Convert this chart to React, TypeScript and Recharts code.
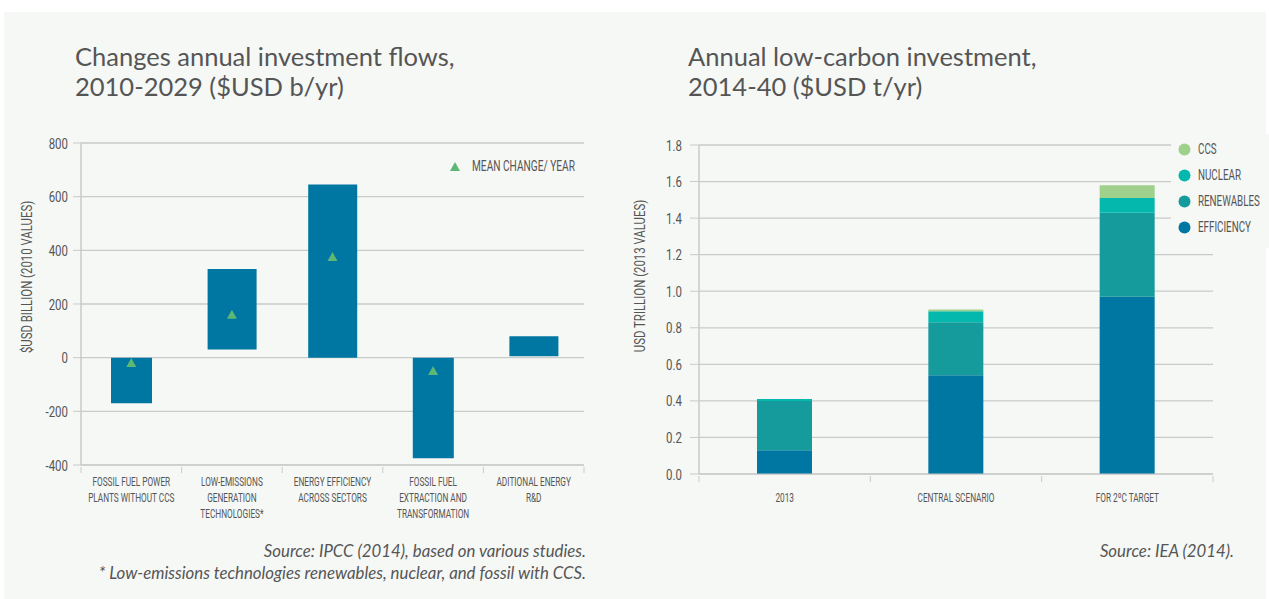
import {
  ComposedChart,
  BarChart,
  Bar,
  Line,
  XAxis,
  YAxis,
  CartesianGrid,
  Legend,
} from "recharts";

// ---- left chart: changes in annual investment flows ----
const flowCategories = [
  "FOSSIL FUEL POWER|PLANTS WITHOUT CCS",
  "LOW-EMISSIONS|GENERATION|TECHNOLOGIES*",
  "ENERGY EFFICIENCY|ACROSS SECTORS",
  "FOSSIL FUEL|EXTRACTION AND|TRANSFORMATION",
  "ADITIONAL ENERGY|R&D",
];
const flowLow = [-170, 30, 0, -375, 5];
const flowHigh = [0, 330, 645, 0, 80];
const meanChange = [-20, 160, 375, -50, null];
const flowTicks = [-400, -200, 0, 200, 400, 600, 800];

// ---- right chart: annual low-carbon investment ----
const scenarios = ["2013", "CENTRAL SCENARIO", "FOR 2ºC TARGET"];
const efficiency = [0.13, 0.54, 0.97];
const renewables = [0.27, 0.29, 0.46];
const nuclear = [0.01, 0.06, 0.08];
const ccs = [0, 0.01, 0.07];
const investTicks = [0, 0.2, 0.4, 0.6, 0.8, 1.0, 1.2, 1.4, 1.6, 1.8];

const flowData = flowCategories.map((name, i) => ({
  name,
  up: flowLow[i] >= 0 ? [flowLow[i], flowHigh[i]] : null,
  down: flowLow[i] < 0 ? [flowLow[i], flowHigh[i]] : null,
  mean: meanChange[i],
}));

const investData = scenarios.map((name, i) => ({
  name,
  efficiency: efficiency[i],
  renewables: renewables[i],
  nuclear: nuclear[i],
  ccs: ccs[i],
}));

const seriesInfo = [
  { key: "efficiency", name: "EFFICIENCY", color: "#0076a2" },
  { key: "renewables", name: "RENEWABLES", color: "#169b9c" },
  { key: "nuclear", name: "NUCLEAR", color: "#04b8ad" },
  { key: "ccs", name: "CCS", color: "#9fd18d" },
];

const BG = "#f6f8f6";
const GRID = "#c9cbcb";
const TEXT = "#555555";
const NARROW = "Roboto, 'Liberation Sans', sans-serif";
const SQUEEZE = 0.7;
const HUMAN = "Lato, 'Open Sans', sans-serif";
const BLUE = "#0076a2";
const GREEN = "#5cb874";

// condensed-looking svg text (no condensed font installed)
const Narrow = ({ x, y, size, anchor = "middle", children, squeeze = SQUEEZE }: any) => (
  <text
    transform={`translate(${x},${y}) scale(${squeeze},1)`}
    textAnchor={anchor}
    fontFamily={NARROW}
    fontSize={size}
    fill={TEXT}
  >
    {children}
  </text>
);

const Triangle = (props: any) => {
  const { cx, cy } = props;
  if (cx == null || cy == null || props.value == null) return null;
  return <path d={`M${cx - 5},${cy + 4}L${cx + 5},${cy + 4}L${cx},${cy - 5}Z`} fill={GREEN} />;
};

function makeCategoryTick(n: number, plotWidth: number, firstLine: number, lineGap: number) {
  return (props: any) => {
    const { x, y, payload, index } = props;
    const band = plotWidth / n;
    const lines = String(payload.value).split("|");
    return (
      <g>
        <line x1={x + band / 2} x2={x + band / 2} y1={y} y2={y + 6} stroke={GRID} />
        {index === 0 && <line x1={x - band / 2} x2={x - band / 2} y1={y} y2={y + 6} stroke={GRID} />}
        {lines.map((l, k) => (
          <Narrow key={k} x={x} y={y + firstLine + k * lineGap} size={12.5} squeeze={0.66}>
            {l}
          </Narrow>
        ))}
      </g>
    );
  };
}

function makeValueTick(fmt: (v: number) => string) {
  return (props: any) => {
    const { x, y, payload } = props;
    return (
      <Narrow x={x} y={y + 5.5} size={15.5} anchor="end" squeeze={0.74}>
        {fmt(payload.value)}
      </Narrow>
    );
  };
}

const axisTitle = (x: number, y: number, text: string) => () => (
  <g transform={`translate(${x},${y}) rotate(-90)`}>
    <Narrow x={0} y={5} size={15} squeeze={0.76}>
      {text}
    </Narrow>
  </g>
);

const narrowSpan = (text: string, size: number) => (
  <span
    style={{
      display: "inline-block",
      fontFamily: NARROW,
      fontSize: size,
      color: TEXT,
      whiteSpace: "nowrap",
      transform: `scaleX(${SQUEEZE})`,
      transformOrigin: "left center",
    }}
  >
    {text}
  </span>
);

function FlowChart() {
  return (
    <ComposedChart
      width={600}
      height={540}
      data={flowData}
      margin={{ top: 143, right: 16, left: 0, bottom: 15 }}
    >
      <CartesianGrid vertical={false} stroke={GRID} strokeWidth={1.3} />
      <XAxis
        xAxisId="a"
        dataKey="name"
        height={60}
        axisLine={{ stroke: GRID }}
        tickLine={false}
        tickSize={0}
        interval={0}
        tick={makeCategoryTick(5, 503, 19, 16)}
      />
      <XAxis xAxisId="b" dataKey="name" hide />
      <YAxis
        domain={[-400, 800]}
        ticks={flowTicks}
        width={81}
        interval={0}
        axisLine={{ stroke: GRID, strokeWidth: 1.5 }}
        tickLine={{ stroke: GRID }}
        tickSize={8}
        tickMargin={5}
        tick={makeValueTick((v) => String(v))}
        label={{ content: axisTitle(27, 277, "$USD BILLION (2010 VALUES)") }}
      />
      <Bar xAxisId="a" dataKey="up" barSize={49} fill={BLUE} legendType="none" isAnimationActive={false} />
      <Bar xAxisId="b" dataKey="down" barSize={41} fill={BLUE} legendType="none" isAnimationActive={false} />
      <Line
        xAxisId="a"
        dataKey="mean"
        name="MEAN CHANGE/ YEAR"
        stroke="none"
        dot={<Triangle />}
        activeDot={false}
        isAnimationActive={false}
      />
      <Legend
        layout="vertical"
        align="center"
        verticalAlign="middle"
        wrapperStyle={{ left: 448, top: 157, width: 150 }}
        content={(p: any) => (
          <div>
            {(p.payload || [])
              .filter((e: any) => e.dataKey === "mean")
              .map((e: any) => (
                <div key={e.value} style={{ display: "flex", alignItems: "center", whiteSpace: "nowrap" }}>
                  <svg width={16} height={16} style={{ flexShrink: 0 }}>
                    <path d="M2,13L12,13L7,4Z" fill={GREEN} />
                  </svg>
                  <span style={{ marginLeft: 8 }}>{narrowSpan(e.value, 14.5)}</span>
                </div>
              ))}
          </div>
        )}
      />
    </ComposedChart>
  );
}

function InvestChart() {
  return (
    <BarChart
      width={669}
      height={540}
      data={investData}
      margin={{ top: 145, right: 56, left: 0, bottom: 16 }}
    >
      <CartesianGrid vertical={false} stroke={GRID} strokeWidth={1.3} />
      <XAxis
        dataKey="name"
        height={50}
        axisLine={{ stroke: GRID }}
        tickLine={false}
        tickSize={0}
        interval={0}
        tick={makeCategoryTick(3, 514, 26, 16)}
      />
      <YAxis
        domain={[0, 1.8]}
        ticks={investTicks}
        width={99}
        interval={0}
        axisLine={{ stroke: GRID, strokeWidth: 1.5 }}
        tickLine={{ stroke: GRID }}
        tickSize={9}
        tickMargin={8}
        tick={makeValueTick((v) => v.toFixed(1))}
        label={{ content: axisTitle(40, 276, "USD TRILLION (2013 VALUES)") }}
      />
      {seriesInfo.map((s) => (
        <Bar
          key={s.key}
          dataKey={s.key}
          name={s.name}
          stackId="inv"
          barSize={55}
          fill={s.color}
          isAnimationActive={false}
        />
      ))}
      <Legend
        layout="vertical"
        align="center"
        verticalAlign="middle"
        wrapperStyle={{ left: 571, top: 134, width: 98 }}
        content={(p: any) => {
          const items = seriesInfo
            .map((s) => (p.payload || []).find((e: any) => e.dataKey === s.key))
            .filter(Boolean)
            .reverse();
          return (
            <div style={{ background: BG, padding: "2px 0 8px 0" }}>
              {items.map((e: any) => (
                <div key={e.value} style={{ display: "flex", alignItems: "center", height: 26 }}>
                  <svg width={13} height={13} style={{ marginLeft: 7, flexShrink: 0 }}>
                    <circle cx={6.5} cy={6.5} r={6} fill={e.color} />
                  </svg>
                  <span style={{ marginLeft: 7 }}>{narrowSpan(e.value, 14)}</span>
                </div>
              ))}
            </div>
          );
        }}
      />
    </BarChart>
  );
}

const titleStyle: React.CSSProperties = {
  position: "absolute",
  fontFamily: HUMAN,
  fontSize: 25.5,
  lineHeight: "30px",
  color: TEXT,
  margin: 0,
  fontWeight: 400,
  whiteSpace: "nowrap",
};

const sourceStyle: React.CSSProperties = {
  position: "absolute",
  fontFamily: HUMAN,
  fontStyle: "italic",
  fontSize: 16.8,
  lineHeight: "22px",
  color: TEXT,
  textAlign: "right",
  whiteSpace: "nowrap",
};

export default function App() {
  return (
    <div style={{ position: "absolute", left: 0, top: 0, width: 1269, height: 599, background: "#fff", overflow: "hidden" }}>
      <div style={{ position: "absolute", left: 4, top: 12, width: 1262, height: 587, background: BG }} />
      <div style={{ ...titleStyle, left: 75, top: 41 }}>
        Changes annual investment flows,
        <br />
        2010-2029 ($USD b/yr)
      </div>
      <div style={{ ...titleStyle, left: 688, top: 41 }}>
        Annual low-carbon investment,
        <br />
        2014-40 ($USD t/yr)
      </div>
      <div style={{ position: "absolute", left: 0, top: 0 }}>
        <FlowChart />
      </div>
      <div style={{ position: "absolute", left: 600, top: 0 }}>
        <InvestChart />
      </div>
      <div style={{ ...sourceStyle, right: 1269 - 586, top: 540 }}>
        Source: IPCC (2014), based on various studies.
        <br />* Low-emissions technologies renewables, nuclear, and fossil with CCS.
      </div>
      <div style={{ ...sourceStyle, right: 1269 - 1234, top: 540 }}>Source: IEA (2014).</div>
    </div>
  );
}
